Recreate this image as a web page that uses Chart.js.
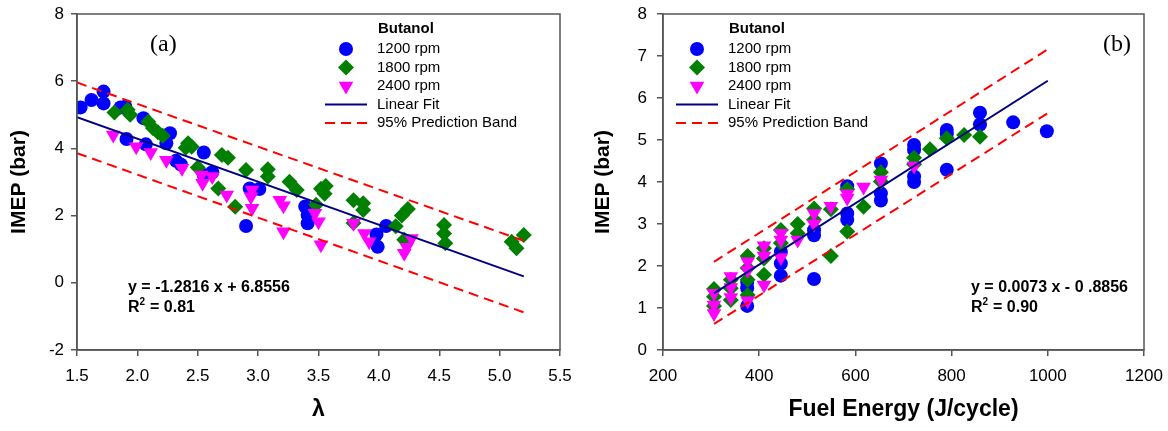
<!DOCTYPE html>
<html>
<head>
<meta charset="utf-8">
<script src="https://cdn.jsdelivr.net/npm/chart.js@4.4.1/dist/chart.umd.min.js"></script>
<style>
html, body { margin: 0; padding: 0; background: #fff; }
#wrap { position: relative; width: 1168px; height: 431px; }
canvas { position: absolute; top: 0; }
#chartA { left: 0; }
#chartB { left: 584px; }
</style>
</head>
<body>
<div id="wrap">
<canvas id="chartA" width="584" height="431"></canvas>
<canvas id="chartB" width="584" height="431"></canvas>
</div>
<script>
// ---- panel (a): IMEP vs lambda ----
const lamBlue  = [1.53,1.62,1.72,1.72,1.86,1.90,1.91,2.05,2.07,2.24,2.27,2.32,2.36,2.55,2.55,2.62,2.90,2.93,3.01,3.39,3.41,3.41,3.98,3.99,4.06];
const imepBlueA = [5.22,5.44,5.69,5.34,5.22,5.24,4.28,4.90,4.12,4.15,4.45,3.63,3.52,3.88,3.21,3.29,1.69,2.81,2.79,2.27,2.02,1.77,1.44,1.07,1.69];
const lamGreen  = [1.81,1.92,1.94,2.09,2.13,2.17,2.21,2.40,2.42,2.45,2.50,2.67,2.70,2.75,2.81,2.90,3.08,3.08,3.26,3.32,3.48,3.52,3.56,3.55,3.79,3.87,3.87,3.79,4.14,4.19,4.24,4.21,4.54,4.54,4.55,5.10,5.14,5.20];
const imepGreenA = [5.07,5.15,5.00,4.79,4.60,4.48,4.38,4.02,4.15,4.05,3.43,2.81,3.80,3.72,2.26,3.36,3.38,3.16,3.01,2.76,2.32,2.80,2.88,2.65,2.46,2.37,2.17,1.78,1.68,2.00,2.20,1.28,1.72,1.47,1.18,1.22,1.03,1.42];
const lamPink  = [1.80,1.99,2.11,2.24,2.37,2.53,2.54,2.62,2.74,2.95,2.94,2.95,3.18,3.21,3.21,3.47,3.50,3.52,3.79,3.88,3.92,4.27,4.23,4.21];
const imepPinkA = [4.40,4.05,3.88,3.65,3.41,3.21,2.96,3.16,2.61,2.76,2.56,2.22,2.46,2.29,1.52,2.07,1.82,1.13,1.77,1.47,1.22,1.32,1.06,0.88];
const lamLine = [1.5, 5.2];
const fitA = [4.93, 0.19];
const bandUpA = [5.96, 1.25];
const bandLoA = [3.86, -0.88];

// ---- panel (b): IMEP vs fuel energy ----
const enBlue  = [375,375,375,445,445,445,514,514,514,583,583,583,653,653,653,722,722,722,722,790,790,790,859,859,928,998];
const imepBlueB = [1.05,1.47,1.62,2.34,2.06,1.77,2.85,2.73,1.69,3.90,3.25,3.10,4.44,3.73,3.56,4.88,4.76,4.13,4.00,5.24,5.14,4.29,5.65,5.37,5.42,5.21];
const enGreen  = [306,306,306,341,341,341,376,376,376,376,410,410,410,445,445,480,480,514,514,549,549,583,583,617,653,653,722,722,755,790,826,859];
const imepGreenB = [1.45,1.27,1.05,1.67,1.47,1.19,2.24,1.95,1.67,1.31,2.42,2.18,1.79,2.86,2.55,3.00,2.78,3.37,3.10,3.35,2.24,3.83,2.82,3.41,4.23,4.01,4.58,4.42,4.78,5.04,5.12,5.08];
const enPink  = [306,306,306,341,341,341,376,376,376,410,410,410,445,445,445,480,514,514,549,583,583,617,653,722];
const imepPinkB = [1.35,1.07,0.87,1.75,1.49,1.25,2.10,1.90,1.17,2.48,2.24,1.55,2.78,2.62,2.20,2.62,3.25,3.00,3.42,3.72,3.62,3.88,4.05,4.38];
const enLine = [306, 1000];
const fitB = [1.35, 6.41];
const bandUpB = [2.10, 7.16];
const bandLoB = [0.62, 5.64];

const FONT = '"Liberation Sans", Arial, sans-serif';
const BLUE = '#0000ff', GREEN = '#007f00', PINK = '#ff00ff', NAVY = '#000080', RED = '#ff0000';
const AXIS = '#555555';

const pts = (xs, ys) => xs.map((x, i) => ({x: x, y: ys[i]}));

function datasets(xB, yB, xG, yG, xP, yP, xl, fit, up, lo) {
    return [
        {label: 'fit', type: 'line', data: pts(xl, fit), borderColor: NAVY, borderWidth: 2, pointRadius: 0, order: 0},
        {label: 'up', type: 'line', data: pts(xl, up), borderColor: RED, borderWidth: 2, borderDash: [10, 6], pointRadius: 0, order: 0},
        {label: 'lo', type: 'line', data: pts(xl, lo), borderColor: RED, borderWidth: 2, borderDash: [10, 6], pointRadius: 0, order: 0},
        {label: '2400 rpm', data: pts(xP, yP), pointStyle: 'triangle', rotation: 180, pointRadius: 8.5, backgroundColor: PINK, borderColor: PINK, borderWidth: 0, order: 1},
        {label: '1800 rpm', data: pts(xG, yG), pointStyle: 'rectRot', pointRadius: 8, backgroundColor: GREEN, borderColor: GREEN, borderWidth: 0, order: 2},
        {label: '1200 rpm', data: pts(xB, yB), pointStyle: 'circle', pointRadius: 7, backgroundColor: BLUE, borderColor: BLUE, borderWidth: 0, order: 3}
    ];
}

// frame, panel tag, legend and equation text
const deco = {
    id: 'deco',
    afterDraw(chart, args, o) {
        const ctx = chart.ctx, a = chart.chartArea;
        ctx.save();
        ctx.strokeStyle = AXIS;
        ctx.lineWidth = 1.5;
        ctx.strokeRect(a.left, a.top, a.right - a.left, a.bottom - a.top);

        ctx.fillStyle = '#000';
        ctx.textBaseline = 'middle';
        ctx.font = '24px "Liberation Serif", "Times New Roman", serif';
        ctx.fillText(o.tag, a.left + o.tagX, a.top + 31);

        // legend
        const mx = a.left + o.legX, tx = mx + 31;
        ctx.font = 'bold 15px ' + FONT;
        ctx.fillText('Butanol', tx + 1, a.top + 15);
        ctx.font = '15px ' + FONT;
        const rows = [35, 53.5, 72, 90.5, 109].map(v => a.top + v);
        const marks = [
            {pointStyle: 'circle', radius: 7, rotation: 0, c: BLUE},
            {pointStyle: 'rectRot', radius: 8, rotation: 0, c: GREEN},
            {pointStyle: 'triangle', radius: 8.5, rotation: 180, c: PINK}
        ];
        const names = ['1200 rpm', '1800 rpm', '2400 rpm'];
        marks.forEach((m, i) => {
            ctx.fillStyle = m.c;
            ctx.strokeStyle = m.c;
            Chart.helpers.drawPoint(ctx, {pointStyle: m.pointStyle, radius: m.radius, rotation: m.rotation, borderWidth: 0}, mx, rows[i]);
            ctx.fillStyle = '#000';
            ctx.fillText(names[i], tx, rows[i]);
        });
        ctx.lineWidth = 2;
        ctx.strokeStyle = NAVY;
        ctx.beginPath();
        ctx.moveTo(mx - 21, rows[3]);
        ctx.lineTo(mx + 21, rows[3]);
        ctx.stroke();
        ctx.fillText('Linear Fit', tx, rows[3]);
        ctx.strokeStyle = RED;
        ctx.setLineDash([10, 6]);
        ctx.beginPath();
        ctx.moveTo(mx - 21, rows[4]);
        ctx.lineTo(mx + 21, rows[4]);
        ctx.stroke();
        ctx.setLineDash([]);
        ctx.fillText('95% Prediction Band', tx, rows[4]);

        // equation
        const ex = a.left + o.eqX;
        ctx.font = 'bold 16px ' + FONT;
        ctx.fillText(o.eq, ex, a.top + 274);
        ctx.fillText('R', ex, a.top + 294);
        const rw = ctx.measureText('R').width;
        ctx.font = 'bold 10px ' + FONT;
        ctx.fillText('2', ex + rw, a.top + 288);
        ctx.font = 'bold 16px ' + FONT;
        ctx.fillText(' = ' + o.r2, ex + rw + 6, a.top + 294);
        ctx.restore();
    }
};

function zeroPad(s) { s.paddingLeft = 0; s.paddingRight = 0; s.paddingTop = 0; s.paddingBottom = 0; }

function makeChart(id, ds, sx, sy, deco_opts) {
    return new Chart(document.getElementById(id), {
        type: 'scatter',
        data: {datasets: ds},
        options: {
            responsive: false,
            animation: false,
            layout: {padding: {left: 0, top: 14, right: 24, bottom: 0}},
            plugins: {legend: {display: false}, tooltip: {enabled: false}, deco: deco_opts},
            scales: {
                x: {
                    min: sx.min, max: sx.max,
                    ticks: {stepSize: sx.step, color: '#000', padding: 10, maxRotation: 0, font: {family: FONT, size: 17},
                            callback: sx.fmt},
                    grid: {drawOnChartArea: false, drawTicks: true, tickLength: 6, color: AXIS, lineWidth: 1.5},
                    border: {display: true, color: AXIS, width: 1.5},
                    title: {display: true, text: sx.title, color: '#000', padding: {top: 0, bottom: 8},
                            font: {family: FONT, size: 23, weight: 'bold'}},
                    afterFit: s => { s.height = 81; zeroPad(s); }
                },
                y: {
                    min: sy.min, max: sy.max,
                    ticks: {stepSize: sy.step, color: '#000', padding: sy.pad, font: {family: FONT, size: 17}},
                    grid: {drawOnChartArea: false, drawTicks: true, tickLength: 6, color: AXIS, lineWidth: 1.5},
                    border: {display: true, color: AXIS, width: 1.5},
                    title: {display: true, text: 'IMEP (bar)', color: '#000', padding: {top: 7, bottom: 0},
                            font: {family: FONT, size: 21, weight: 'bold'}},
                    afterFit: s => { s.width = sy.width; zeroPad(s); }
                }
            }
        },
        plugins: [deco]
    });
}

makeChart('chartA',
    datasets(lamBlue, imepBlueA, lamGreen, imepGreenA, lamPink, imepPinkA, lamLine, fitA, bandUpA, bandLoA),
    {min: 1.5, max: 5.5, step: 0.5, fmt: v => Number(v).toFixed(1), title: 'λ'},
    {min: -2, max: 8, step: 2, pad: 7, width: 77},
    {tag: '(a)', tagX: 73, legX: 269, eqX: 51, eq: 'y = -1.2816 x + 6.8556', r2: '0.81'});

makeChart('chartB',
    datasets(enBlue, imepBlueB, enGreen, imepGreenB, enPink, imepPinkB, enLine, fitB, bandUpB, bandLoB),
    {min: 200, max: 1200, step: 200, fmt: v => v, title: 'Fuel Energy (J/cycle)'},
    {min: 0, max: 8, step: 1, pad: 10, width: 79},
    {tag: '(b)', tagX: 440, legX: 34, eqX: 308, eq: 'y = 0.0073 x - 0 .8856', r2: '0.90'});
</script>
</body>
</html>
